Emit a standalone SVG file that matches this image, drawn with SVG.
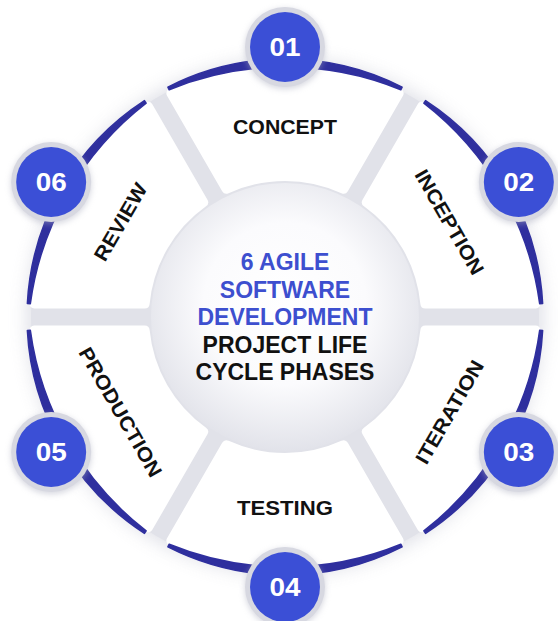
<svg xmlns="http://www.w3.org/2000/svg" xmlns:xlink="http://www.w3.org/1999/xlink" width="558" height="621" viewBox="0 0 558 621">
  <defs>
    <style>
      .seg{fill:#ffffff;stroke:#ffffff;stroke-width:10;stroke-linejoin:round}
      .rim{fill:#2f2f9e;stroke:#2f2f9e;stroke-width:1.5;stroke-linejoin:round}
      .ring{fill:#d7d8e1}
      .dot{fill:#3b4fd6}
      .num{font-family:"Liberation Sans",Arial,sans-serif;font-weight:700;font-size:26px;fill:#ffffff;text-anchor:middle}
      .lbl{font-family:"Liberation Sans",Arial,sans-serif;font-weight:700;font-size:20px;fill:#111111;text-anchor:middle}
      .title{font-family:"Liberation Sans",Arial,sans-serif;font-weight:700;font-size:23px;text-anchor:middle}
      .blue{fill:#3d4fcf}
      .dark{fill:#111111}
    </style>
    <!-- one ring segment, centred on the upward axis, origin at the hub centre -->
    <path id="seg" d="M -113.63,-223.8 A 251 251 0 0 1 113.63,-223.8 L 58.49,-128.3 A 141 141 0 0 0 -58.49,-128.3 Z"/>
    <!-- tapered outer rim of a segment -->
    <path id="rim" d="M -117.1,-229.9 A 258 258 0 0 1 117.1,-229.9 L 115.8,-227.2 A 305.5 305.5 0 0 0 -115.8,-227.2 Z"/>
    <radialGradient id="hub" cx="0.5" cy="0.45" r="0.55">
      <stop offset="0" stop-color="#ffffff"/>
      <stop offset="0.55" stop-color="#fbfbfd"/>
      <stop offset="1" stop-color="#e2e3ea"/>
    </radialGradient>
    <filter id="soft" x="-20%" y="-20%" width="140%" height="140%">
      <feGaussianBlur stdDeviation="9"/>
    </filter>
    <filter id="badgeShadow" x="-40%" y="-40%" width="180%" height="180%">
      <feGaussianBlur stdDeviation="3"/>
    </filter>
  </defs>

  <rect width="558" height="621" fill="#ffffff"/>

  <!-- base disc: halo and the grey showing through the gaps -->
  <g id="base">
    <circle cx="285" cy="317" r="258" fill="#b9bbca" opacity="0.45" filter="url(#soft)"/>
    <circle cx="285" cy="317" r="254" fill="#e1e2e9"/>
  </g>

  <!-- hub -->
  <g id="hub-title">
    <circle cx="285" cy="317" r="134" fill="url(#hub)"/>
    <text class="title blue" x="285" y="270">6 AGILE</text>
    <text class="title blue" x="285" y="297.5">SOFTWARE</text>
    <text class="title blue" x="285" y="325">DEVELOPMENT</text>
    <text class="title dark" x="285" y="352.5">PROJECT LIFE</text>
    <text class="title dark" x="285" y="380">CYCLE PHASES</text>
  </g>

  <!-- connectors: none in this layout, the ring segments touch the hub directly -->
  <g id="connectors"/>

  <g id="phase-01">
    <use xlink:href="#seg" class="seg" transform="translate(285 317)"/>
    <use xlink:href="#rim" class="rim" transform="translate(285 317)"/>
    <text class="lbl" x="285" y="134" textLength="104" lengthAdjust="spacingAndGlyphs">CONCEPT</text>
    <circle cx="285" cy="49" r="40" fill="#a9abbd" opacity="0.5" filter="url(#badgeShadow)"/>
    <circle class="ring" cx="285" cy="47" r="40"/>
    <circle class="dot" cx="285" cy="47" r="35"/>
    <text class="num" x="285" y="56.3" textLength="31" lengthAdjust="spacingAndGlyphs">01</text>
  </g>

  <g id="phase-02">
    <use xlink:href="#seg" class="seg" transform="translate(285 317) rotate(60)"/>
    <use xlink:href="#rim" class="rim" transform="translate(285 317) rotate(60)"/>
    <text class="lbl" transform="translate(449.5 222) rotate(60)" x="0" y="7" textLength="118" lengthAdjust="spacingAndGlyphs">INCEPTION</text>
    <circle cx="518.83" cy="184" r="40" fill="#a9abbd" opacity="0.5" filter="url(#badgeShadow)"/>
    <circle class="ring" cx="518.83" cy="182" r="40"/>
    <circle class="dot" cx="518.83" cy="182" r="35"/>
    <text class="num" x="518.83" y="191.3" textLength="31" lengthAdjust="spacingAndGlyphs">02</text>
  </g>

  <g id="phase-03">
    <use xlink:href="#seg" class="seg" transform="translate(285 317) rotate(120)"/>
    <use xlink:href="#rim" class="rim" transform="translate(285 317) rotate(120)"/>
    <text class="lbl" transform="translate(449.5 412) rotate(-60)" x="0" y="7" textLength="116" lengthAdjust="spacingAndGlyphs">ITERATION</text>
    <circle cx="518.83" cy="454" r="40" fill="#a9abbd" opacity="0.5" filter="url(#badgeShadow)"/>
    <circle class="ring" cx="518.83" cy="452" r="40"/>
    <circle class="dot" cx="518.83" cy="452" r="35"/>
    <text class="num" x="518.83" y="461.3" textLength="31" lengthAdjust="spacingAndGlyphs">03</text>
  </g>

  <g id="phase-04">
    <use xlink:href="#seg" class="seg" transform="translate(285 317) rotate(180)"/>
    <use xlink:href="#rim" class="rim" transform="translate(285 317) rotate(180)"/>
    <text class="lbl" x="285" y="515" textLength="96" lengthAdjust="spacingAndGlyphs">TESTING</text>
    <circle cx="285" cy="589" r="40" fill="#a9abbd" opacity="0.5" filter="url(#badgeShadow)"/>
    <circle class="ring" cx="285" cy="587" r="40"/>
    <circle class="dot" cx="285" cy="587" r="35"/>
    <text class="num" x="285" y="596.3" textLength="31" lengthAdjust="spacingAndGlyphs">04</text>
  </g>

  <g id="phase-05">
    <use xlink:href="#seg" class="seg" transform="translate(285 317) rotate(240)"/>
    <use xlink:href="#rim" class="rim" transform="translate(285 317) rotate(240)"/>
    <text class="lbl" transform="translate(120.5 412) rotate(60)" x="0" y="7" textLength="146" lengthAdjust="spacingAndGlyphs">PRODUCTION</text>
    <circle cx="51.17" cy="454" r="40" fill="#a9abbd" opacity="0.5" filter="url(#badgeShadow)"/>
    <circle class="ring" cx="51.17" cy="452" r="40"/>
    <circle class="dot" cx="51.17" cy="452" r="35"/>
    <text class="num" x="51.17" y="461.3" textLength="31" lengthAdjust="spacingAndGlyphs">05</text>
  </g>

  <g id="phase-06">
    <use xlink:href="#seg" class="seg" transform="translate(285 317) rotate(300)"/>
    <use xlink:href="#rim" class="rim" transform="translate(285 317) rotate(300)"/>
    <text class="lbl" transform="translate(120.5 222) rotate(-60)" x="0" y="7" textLength="86" lengthAdjust="spacingAndGlyphs">REVIEW</text>
    <circle cx="51.17" cy="184" r="40" fill="#a9abbd" opacity="0.5" filter="url(#badgeShadow)"/>
    <circle class="ring" cx="51.17" cy="182" r="40"/>
    <circle class="dot" cx="51.17" cy="182" r="35"/>
    <text class="num" x="51.17" y="191.3" textLength="31" lengthAdjust="spacingAndGlyphs">06</text>
  </g>
</svg>
